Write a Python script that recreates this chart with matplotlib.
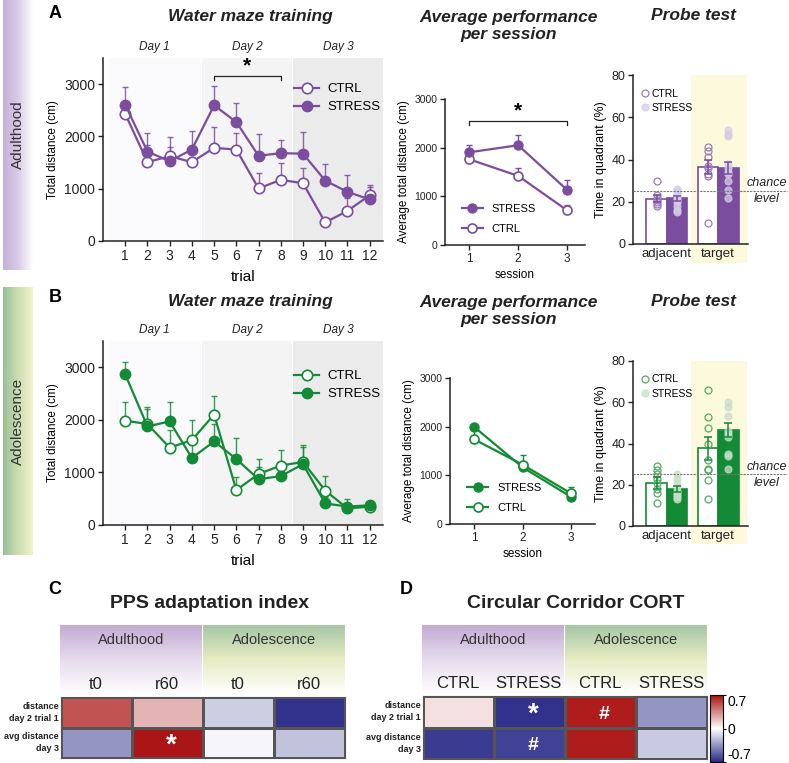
import numpy as np
import matplotlib
matplotlib.use('Agg')
import matplotlib.pyplot as plt
import matplotlib.transforms as mtransforms
from matplotlib.colors import LinearSegmentedColormap
from matplotlib.lines import Line2D
from matplotlib.patches import Rectangle

plt.rcParams['font.family'] = ['Liberation Sans', 'DejaVu Sans']

W, H = 789, 763

# ---- data -------------------------------------------------------------
trials = np.arange(1, 13)
sessions = [1, 2, 3]
day_names = ['Day 1', 'Day 2', 'Day 3']
probe_groups = ['adjacent', 'target']

# Adulthood
adult_ctrl = [2430, 1510, 1620, 1510, 1780, 1750, 1005, 1170, 1105, 355, 575, 875]
adult_ctrl_err = [150, 335, 180, 90, 395, 315, 295, 325, 295, 80, 240, 150]
adult_stress = [2605, 1710, 1525, 1750, 2595, 2275, 1630, 1680, 1670, 1155, 940, 795]
adult_stress_err = [335, 365, 455, 345, 370, 365, 415, 250, 420, 320, 330, 285]
adult_avg_stress = [1905, 2050, 1135]
adult_avg_stress_err = [150, 205, 205]
adult_avg_ctrl = [1760, 1420, 715]
adult_avg_ctrl_err = [70, 170, 110]
adult_probe_ctrl = [21.5, 36.5]
adult_probe_ctrl_err = [1.5, 3.5]
adult_probe_stress = [21.7, 36.0]
adult_probe_stress_err = [1.2, 3.0]
adult_adj_ctrl_pts = [30, 23, 22, 21, 20, 19, 18]
adult_adj_stress_pts = [26, 25, 24, 23, 22, 21, 20, 18, 16, 15]
adult_tgt_ctrl_pts = [46, 44, 41, 37, 36, 33, 32, 10]
adult_tgt_stress_pts = [54, 52, 51, 38, 36, 34, 33, 30, 25.5, 22]

# Adolescence
adol_ctrl = [1985, 1920, 1470, 1615, 2100, 665, 970, 1130, 1200, 655, 315, 350]
adol_ctrl_err = [360, 285, 335, 375, 355, 255, 280, 290, 325, 280, 100, 50]
adol_stress = [2865, 1875, 1970, 1275, 1590, 1255, 870, 930, 1155, 410, 350, 375]
adol_stress_err = [240, 375, 375, 330, 325, 405, 240, 100, 335, 115, 150, 50]
adol_avg_stress = [1995, 1165, 560]
adol_avg_stress_err = [60, 60, 60]
adol_avg_ctrl = [1740, 1220, 630]
adol_avg_ctrl_err = [250, 190, 130]
adol_probe_ctrl = [20.8, 37.7]
adol_probe_ctrl_err = [3.0, 5.5]
adol_probe_stress = [18.1, 46.6]
adol_probe_stress_err = [1.5, 3.4]
adol_adj_ctrl_pts = [29, 27, 25, 23, 21, 18, 16, 11]
adol_adj_stress_pts = [25, 23, 21, 19, 17, 16, 15, 14, 13]
adol_tgt_ctrl_pts = [66, 53, 47.5, 40, 32, 27.5, 27, 22.5, 13]
adol_tgt_stress_pts = [60, 57.5, 53.5, 46, 44.5, 43, 35, 34, 27.7]

# heatmaps
heat_rows = ['distance\nday 2 trial 1', 'avg distance\nday 3']
heat_groups = ['Adulthood', 'Adolescence']
pps_cols = ['t0', 'r60', 't0', 'r60']
pps_vals = [[0.50, 0.22, -0.16, -0.67],
            [-0.35, 0.68, -0.03, -0.20]]
pps_marks = [['', '', '', ''], ['', '*', '', '']]
cort_cols = ['CTRL', 'STRESS', 'CTRL', 'STRESS']
cort_vals = [[0.09, -0.67, 0.66, -0.35],
             [-0.64, -0.62, 0.66, -0.18]]
cort_marks = [['', '*', '#', ''], ['', '#', '', '']]

PURPLE = '#7b4d9e'
PURPLE_PT = '#9a7bbd'
PURPLE_LIGHT = '#d6cce6'
GREEN = '#138a36'
GREEN_PT = '#52ad62'
GREEN_LIGHT = '#c6dfc8'
AXC = '#222222'

heat_cmap = LinearSegmentedColormap.from_list('heat', ['#2a2a88', '#ffffff', '#aa0f0f'])


def add_axes_px(fig, left, top, right, bottom):
    return fig.add_axes([left / W, 1 - bottom / H, (right - left) / W, (bottom - top) / H])


def fig_text(fig, x, y, s, **kw):
    fig.text(x / W, 1 - y / H, s, **kw)


def style_axes(ax, size):
    for s in ['top', 'right']:
        ax.spines[s].set_visible(False)
    for s in ['left', 'bottom']:
        ax.spines[s].set_color(AXC)
        ax.spines[s].set_linewidth(1.1)
    ax.tick_params(direction='out', length=3.5, width=1, colors=AXC, labelsize=size, pad=2)


def side_bar(fig, top, bottom, colors, label):
    ax = add_axes_px(fig, 3, top, 33, bottom)
    cm = LinearSegmentedColormap.from_list('bar', colors)
    ax.imshow(np.linspace(0, 1, 100)[None, :], cmap=cm, aspect='auto', extent=(0, 1, 0, 1))
    ax.axis('off')
    ax.text(0.5, 0.5, label, rotation=90, ha='center', va='center', fontsize=11,
            color='#333333', transform=ax.transAxes)


def plot_maze(ax, ctrl, ctrl_err, stress, stress_err, color, leg_y):
    spans = [(0.25, 4.4), (4.47, 8.49), (8.55, 12.6)]
    shades = ['#fafafd', '#f4f4f4', '#ebebeb']
    for (x0, x1), c, name in zip(spans, shades, day_names):
        ax.axvspan(x0, x1, color=c, lw=0, zorder=0)
        ax.text((x0 + x1) / 2, 1.06, name, style='italic', fontsize=8.5, ha='center',
                va='center', color='#222222', transform=ax.get_xaxis_transform())
    zero = np.zeros(len(trials))
    ax.errorbar(trials, ctrl, yerr=[zero, ctrl_err], fmt='none', ecolor=color, elinewidth=1,
                capsize=2.5, capthick=1, alpha=0.85, zorder=2)
    ax.errorbar(trials, stress, yerr=[zero, stress_err], fmt='none', ecolor=color, elinewidth=1,
                capsize=2.5, capthick=1, alpha=0.85, zorder=2)
    h1, = ax.plot(trials, ctrl, '-o', color=color, mfc='white', mec=color, ms=7.5, mew=1.2,
                  lw=1.6, zorder=3, label='CTRL')
    h2, = ax.plot(trials, stress, '-o', color=color, mfc=color, mec=color, ms=7.5,
                  lw=1.6, zorder=4, label='STRESS')
    ax.set_xlim(0, 12.6)
    ax.set_ylim(0, 3500)
    ax.set_xticks(trials)
    ax.set_yticks([0, 1000, 2000, 3000])
    style_axes(ax, 10)
    ax.set_xlabel('trial', fontsize=11, labelpad=5)
    ax.set_ylabel('Total distance (cm)', fontsize=8.5, labelpad=4)
    ax.legend(handles=[h1, h2], loc='center left', bbox_to_anchor=(0.66, leg_y), frameon=False,
              fontsize=9.5, handlelength=1.9, handletextpad=0.6, labelspacing=0.45, borderpad=0)


def plot_avg(ax, ctrl, ctrl_err, stress, stress_err, color, xmax, ctrl_top):
    zero = np.zeros(3)
    ax.errorbar(sessions, stress, yerr=[zero, stress_err], fmt='none', ecolor=color, elinewidth=1,
                capsize=2.5, capthick=1, zorder=2)
    ax.errorbar(sessions, ctrl, yerr=[zero, ctrl_err], fmt='none', ecolor=color, elinewidth=1,
                capsize=2.5, capthick=1, zorder=2)
    hs, = ax.plot(sessions, stress, '-o', color=color, mfc=color, ms=6.5, lw=1.6,
                  zorder=3 if ctrl_top else 4, label='STRESS')
    hc, = ax.plot(sessions, ctrl, '-o', color=color, mfc='white', mec=color, ms=6.5, mew=1.2,
                  lw=1.6, zorder=4 if ctrl_top else 3, label='CTRL')
    ax.set_xlim(0.5, xmax)
    ax.set_ylim(0, 3000)
    ax.set_xticks(sessions)
    ax.set_yticks([0, 1000, 2000, 3000])
    style_axes(ax, 7.5)
    ax.tick_params(axis='x', labelsize=8.5)
    ax.set_xlabel('session', fontsize=8.5, labelpad=3)
    ax.set_ylabel('Average total distance (cm)', fontsize=8.5, labelpad=3)
    ax.legend(handles=[hs, hc], loc='center left', bbox_to_anchor=(0.08, 0.18), frameon=False,
              fontsize=8, handlelength=1.9, handletextpad=0.8, labelspacing=0.9, borderpad=0)


def plot_probe(ax, ctrl_mean, ctrl_err, stress_mean, stress_err, pts, color, pt_color, light):
    x = np.arange(len(probe_groups))
    trans = mtransforms.blended_transform_factory(ax.transData, ax.transAxes)
    ax.add_patch(Rectangle((0.46, -0.11), 1.1, 1.11, transform=trans, color='#fcf9dc',
                           lw=0, clip_on=False, zorder=0))
    ax.bar(x - 0.2, ctrl_mean, 0.4, color='white', edgecolor=color, lw=1.2, zorder=2)
    ax.bar(x + 0.2, stress_mean, 0.4, color=color, edgecolor=color, lw=1.2, zorder=2)
    ax.errorbar(x - 0.2, ctrl_mean, yerr=ctrl_err, fmt='none', ecolor=color, elinewidth=1.1,
                capsize=3, capthick=1.1, zorder=5)
    ax.errorbar(x + 0.2, stress_mean, yerr=stress_err, fmt='none', ecolor=color, elinewidth=1.1,
                capsize=3, capthick=1.1, zorder=5)
    adj_c, adj_s, tgt_c, tgt_s = pts
    for xi, vals in [(-0.2, adj_c), (0.8, tgt_c)]:
        ax.plot([xi] * len(vals), vals, 'o', ms=5, mfc='none', mec=pt_color, mew=0.9, zorder=4)
    for xi, vals in [(0.2, adj_s), (1.2, tgt_s)]:
        ax.plot([xi] * len(vals), vals, 'o', ms=5, mfc=light, mec=light, alpha=0.75, mew=0.9,
                zorder=4)
    yline = mtransforms.blended_transform_factory(ax.transAxes, ax.transData)
    ax.plot([0, 1.34], [25, 25], transform=yline, ls=(0, (2, 1)), lw=0.8, color='#777777',
            clip_on=False, zorder=6)
    ax.text(1.165, 25.8, 'chance', transform=yline, ha='center', va='bottom', style='italic',
            fontsize=9, color='#222222')
    ax.text(1.165, 24.0, 'level', transform=yline, ha='center', va='top', style='italic',
            fontsize=9, color='#222222')
    ax.set_xlim(-0.66, 1.58)
    ax.set_ylim(0, 80)
    ax.set_yticks([0, 20, 40, 60, 80])
    ax.set_xticks(x)
    ax.set_xticklabels(probe_groups)
    style_axes(ax, 9)
    ax.tick_params(axis='x', length=0, labelsize=9.5, pad=3)
    ax.set_ylabel('Time in quadrant (%)', fontsize=9, labelpad=3)
    handles = [Line2D([], [], ls='none', marker='o', ms=5, mfc='none', mec=pt_color, mew=0.9),
               Line2D([], [], ls='none', marker='o', ms=5, mfc=light, mec=light, alpha=0.75)]
    ax.legend(handles, ['CTRL', 'STRESS'], loc='upper left', bbox_to_anchor=(0.02, 0.95),
              frameon=False, fontsize=7.5, handlelength=0.8, handletextpad=0.3, labelspacing=0.4,
              borderpad=0)


def plot_heat(fig, box, head_top, vals, cols, marks, title, title_x, letter, letter_x):
    left, top, right, bottom = box
    head = add_axes_px(fig, left - 1, head_top, right, top - 2)
    grad_p = LinearSegmentedColormap.from_list('gp', ['#c3abd3', '#e6dcee', '#ffffff'])
    grad_g = LinearSegmentedColormap.from_list('gg', ['#a6c6a4', '#e8ecc4', '#ffffff'])
    g = np.linspace(0, 1, 100)[:, None]
    head.imshow(g, cmap=grad_p, aspect='auto', extent=(0, 1.99, 0, 1))
    head.imshow(g, cmap=grad_g, aspect='auto', extent=(2.01, 4, 0, 1))
    head.set_xlim(0, 4)
    head.set_ylim(0, 1)
    head.axis('off')
    for i, name in enumerate(heat_groups):
        head.text(2 * i + 1, 0.78, name, ha='center', va='center', fontsize=10.5, color='#333333')
    for j, c in enumerate(cols):
        head.text(j + 0.5, 0.15, c, ha='center', va='center', fontsize=12, color='#222222')

    ax = add_axes_px(fig, left, top, right, bottom)
    mesh = ax.pcolormesh(np.array(vals), cmap=heat_cmap, vmin=-0.7, vmax=0.7,
                         edgecolors='#555555', linewidth=0.8)
    ax.set_xlim(0, 4)
    ax.set_ylim(2, 0)
    ax.set_xticks([])
    ax.set_yticks([])
    for s in ax.spines.values():
        s.set_color('#555555')
        s.set_linewidth(0.8)
    for r, lab in enumerate(heat_rows):
        ax.text(-0.03, r + 0.5, lab, ha='right', va='center', fontsize=6.5, weight='bold',
                color='#222222', linespacing=1.4)
        for c in range(4):
            m = marks[r][c]
            if m:
                ax.text(c + 0.55, r + 0.58, m, ha='center', va='center', color='white',
                        weight='bold', fontsize=20 if m == '*' else 14)
    fig_text(fig, title_x, 604, title, ha='center', va='center', fontsize=14, weight='bold',
             color='#222222')
    fig_text(fig, letter_x, 589, letter, ha='center', va='center', fontsize=13, weight='bold')
    return mesh


fig = plt.figure(figsize=(W / 100, H / 100), dpi=100)

side_bar(fig, 0, 270, ['#c6b0d8', '#d9cbe5', '#ffffff'], 'Adulthood')
side_bar(fig, 287, 555, ['#97c097', '#cddcb0', '#f2f2cc'], 'Adolescence')

# row A
ax = add_axes_px(fig, 103, 58, 383, 241)
plot_maze(ax, adult_ctrl, adult_ctrl_err, adult_stress, adult_stress_err, PURPLE, 0.78)
ax.plot([5, 5, 8, 8], [3080, 3160, 3160, 3080], color=AXC, lw=0.9)
ax.text(6.5, 3170, '*', ha='center', va='bottom', fontsize=15, weight='bold')

ax = add_axes_px(fig, 445, 99, 585, 245)
plot_avg(ax, adult_avg_ctrl, adult_avg_ctrl_err, adult_avg_stress, adult_avg_stress_err,
         PURPLE, 3.37, False)
ax.plot([1, 1, 3, 3], [2470, 2540, 2540, 2470], color=AXC, lw=0.9)
ax.text(2, 2560, '*', ha='center', va='bottom', fontsize=15, weight='bold')

ax = add_axes_px(fig, 633, 75, 748, 244)
plot_probe(ax, adult_probe_ctrl, adult_probe_ctrl_err, adult_probe_stress, adult_probe_stress_err,
           (adult_adj_ctrl_pts, adult_adj_stress_pts, adult_tgt_ctrl_pts, adult_tgt_stress_pts),
           PURPLE, PURPLE_PT, PURPLE_LIGHT)

fig_text(fig, 55, 14, 'A', ha='center', va='center', fontsize=13, weight='bold')
fig_text(fig, 250, 16, 'Water maze training', ha='center', va='center', fontsize=12.5,
         weight='bold', style='italic', color='#222222')
fig_text(fig, 509, 26, 'Average performance\nper session', ha='center', va='center',
         fontsize=12.5, weight='bold', style='italic', color='#222222', linespacing=1.2)
fig_text(fig, 693, 16, 'Probe test', ha='center', va='center', fontsize=12.5, weight='bold',
         style='italic', color='#222222')

# row B
ax = add_axes_px(fig, 103, 341, 383, 525)
plot_maze(ax, adol_ctrl, adol_ctrl_err, adol_stress, adol_stress_err, GREEN, 0.76)

ax = add_axes_px(fig, 450, 378, 595, 524)
plot_avg(ax, adol_avg_ctrl, adol_avg_ctrl_err, adol_avg_stress, adol_avg_stress_err,
         GREEN, 3.5, True)

ax = add_axes_px(fig, 633, 361, 748, 526)
plot_probe(ax, adol_probe_ctrl, adol_probe_ctrl_err, adol_probe_stress, adol_probe_stress_err,
           (adol_adj_ctrl_pts, adol_adj_stress_pts, adol_tgt_ctrl_pts, adol_tgt_stress_pts),
           GREEN, GREEN_PT, GREEN_LIGHT)

fig_text(fig, 55, 298, 'B', ha='center', va='center', fontsize=13, weight='bold')
fig_text(fig, 250, 301, 'Water maze training', ha='center', va='center', fontsize=12.5,
         weight='bold', style='italic', color='#222222')
fig_text(fig, 509, 311, 'Average performance\nper session', ha='center', va='center',
         fontsize=12.5, weight='bold', style='italic', color='#222222', linespacing=1.2)
fig_text(fig, 693, 301, 'Probe test', ha='center', va='center', fontsize=12.5, weight='bold',
         style='italic', color='#222222')

# row C / D heatmaps
plot_heat(fig, (61, 697, 345, 758), 625, pps_vals, pps_cols, pps_marks,
          'PPS adaptation index', 210, 'C', 55)
mesh = plot_heat(fig, (423, 696, 707, 759), 625, cort_vals, cort_cols, cort_marks,
                 'Circular Corridor CORT', 576, 'D', 406)

cax = add_axes_px(fig, 710, 695, 723, 762)
cb = fig.colorbar(mesh, cax=cax, ticks=[-0.7, 0, 0.7])
cb.ax.set_yticklabels(['-0.7', '0', '0.7'])
cb.ax.tick_params(labelsize=10, length=2, width=0.8, pad=1)
cb_labels = cb.ax.get_yticklabels()
cb_labels[0].set_va('bottom')
cb_labels[2].set_va('top')
cb.outline.set_linewidth(0.8)

fig.savefig('out.png', dpi=100)
